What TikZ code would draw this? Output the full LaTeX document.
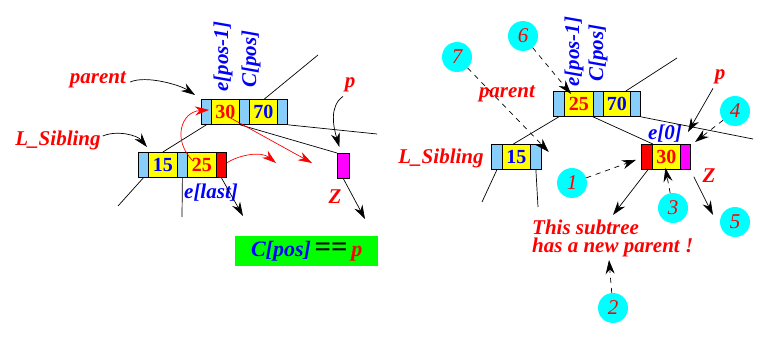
\documentclass[tikz,border=0pt]{standalone}
\usepackage{fontspec}
\setmainfont{Liberation Serif}
\usetikzlibrary{arrows.meta}
\definecolor{cellblue}{RGB}{135,206,250}
\definecolor{cellyellow}{RGB}{255,255,0}
\definecolor{txtred}{RGB}{255,0,0}
\definecolor{txtblue}{RGB}{0,0,255}
\definecolor{cellmag}{RGB}{255,0,255}
\definecolor{boxgreen}{RGB}{0,255,0}
\definecolor{circcyan}{RGB}{0,255,255}
\begin{document}
\begin{tikzpicture}[x=1pt,y=-1pt,
  cell/.style={draw=black,line width=0.8pt,minimum height=25pt,inner sep=0pt,anchor=north west,
    font=\fontsize{20}{20}\selectfont\bfseries},
  bc/.style={cell,fill=cellblue,minimum width=#1},
  yc/.style={cell,fill=cellyellow,minimum width=#1},
  rc/.style={cell,fill=txtred,minimum width=#1},
  mc/.style={cell,fill=cellmag,minimum width=#1},
  lbl/.style={inner sep=0pt,font=\fontsize{21}{21}\selectfont\bfseries\itshape},
  num/.style={circle,fill=circcyan,minimum size=30pt,inner sep=0pt,text=txtred,
    font=\fontsize{21}{21}\selectfont\itshape},
  conn/.style={line width=0.7pt},
  arr/.style={line width=0.7pt,-{Stealth[length=14pt,width=9pt]}},
  rarr/.style={line width=0.7pt,draw=txtred,-{Stealth[length=14pt,width=9pt]}},
  darr/.style={arr,dash pattern=on 5pt off 5pt}
]
\useasboundingbox (0,0) rectangle (780,337);

% ---------- left picture ----------
\node[bc=10pt] (Pb1) at (201,99) {};
\node[yc=28pt,text=txtred] (P30) at (211,99) {30};
\node[bc=10pt] (Pb2) at (239,99) {};
\node[yc=28pt,text=txtblue] (P70) at (249,99) {70};
\node[bc=10pt] (Pb3) at (277,99) {};

\node[bc=10pt] (Lb1) at (138,152) {};
\node[yc=29pt,text=txtblue] (L15) at (148,152) {15};
\node[bc=10pt] (Lb2) at (177,152) {};
\node[yc=29pt,text=txtred] (L25) at (187,152) {25};
\node[rc=10pt] (Lr) at (216,152) {};

\node[mc=12pt] (Z) at (337,153) {};

\node[lbl,text=txtred] (lpar) at (98,80) {parent};
\node[lbl,text=txtred] (lsib) at (58,140) {L\_Sibling};
\node[lbl,text=txtred] (lp) at (350,85) {p};
\node[lbl,text=txtblue,rotate=90,anchor=west] (lepos) at (223,92) {e[pos-1]};
\node[lbl,text=txtblue,rotate=90,anchor=west] (lcpos) at (251,88) {C[pos]};
\node[lbl,text=txtblue] (lelast) at (211,193) {e[last]};
\node[lbl,text=txtred] (lZ) at (335,197) {Z};

\node[fill=boxgreen,minimum width=143pt,minimum height=30pt,inner sep=0pt,anchor=north west,
  font=\fontsize{22}{22}\selectfont\bfseries\itshape] (eq) at (235,236)
  {\textcolor{txtblue}{C[pos]}\,{\fontsize{29}{29}\selectfont\upshape ==}\,\textcolor{txtred}{p}};

\coordinate (lpt1) at (318,55);
\coordinate (lpt2) at (377,134);
\coordinate (lpt3) at (118,206);
\coordinate (lpt4) at (182,217);
\coordinate (lpt5) at (243,216);
\coordinate (lpt6) at (365,219);
\coordinate (lpt7) at (276,163);
\coordinate (lpt8) at (312,163);

\draw[conn] ([xshift=1pt]P70.north) -- (lpt1);
\draw[conn] (Pb3.south east) -- (lpt2);
\draw[conn] ([shift={(1,0)}]Pb2.south west) -- (Z.north west);
\draw[conn] (Pb1.south) -- (L15.north);
\draw[conn] (Lb1.south) -- (lpt3);
\draw[conn] (Lb2.south) -- (lpt4);
\draw[arr] (Lr.south) -- (lpt5);
\draw[arr] (Z.south) -- (lpt6);

\draw[arr] ([shift={(4,2)}]lpar.east) .. controls +(16,-7) and +(-15,-10) .. ([shift={(-6,-4)}]Pb1.north west);
\draw[arr] ([shift={(2,-4)}]lsib.east) .. controls +(14,-6) and +(-10,-12) .. ([shift={(9,-5)}]Lb1.north west);
\draw[arr] ([shift={(-7,4)}]lp.south) .. controls +(-14,10) and +(-6,-20) .. ([shift={(-4,-6)}]Z.north);

\draw[rarr] ([shift={(6,9)}]L25.north west) .. controls +(-21,-21) and +(-28,2) .. ([shift={(-2,-2)}]P30.west);
\draw[rarr] ([shift={(0,-2)}]Lr.east) .. controls +(12,-8) and +(-15,-12) .. (lpt7);
\draw[rarr] ([shift={(5,6)}]P30.center) -- (lpt8);

% ---------- right picture ----------
\node[bc=11pt] (RPb1) at (553,91) {};
\node[yc=29pt,text=txtred] (RP25) at (564,91) {25};
\node[bc=10pt] (RPb2) at (593,91) {};
\node[yc=27pt,text=txtblue] (RP70) at (603,91) {70};
\node[bc=10pt] (RPb3) at (630,91) {};

\node[bc=11pt] (RLb1) at (491,144) {};
\node[yc=28pt,text=txtblue] (RL15) at (502,144) {15};
\node[bc=11pt] (RLb2) at (530,144) {};

\node[rc=11pt] (RNr) at (641,144) {};
\node[yc=28pt,text=txtred] (RN30) at (652,144) {30};
\node[mc=10pt] (RNm) at (680,144) {};

\node[lbl,text=txtred] (rpar) at (507,94) {parent};
\node[lbl,text=txtred] (rsib) at (441,158) {L\_Sibling};
\node[lbl,text=txtred] (rp) at (720,77) {p};
\node[lbl,text=txtblue,rotate=90,anchor=west] (repos) at (574,87) {e[pos-1]};
\node[lbl,text=txtblue,rotate=90,anchor=west] (rcpos) at (598,82) {C[pos]};
\node[lbl,text=txtblue] (re0) at (665,134) {e[0]};
\node[lbl,text=txtred] (rZ) at (709,176) {Z};
\node[lbl,text=txtred,anchor=base west] (sub1) at (532,234) {This subtree};
\node[lbl,text=txtred,anchor=base west] (sub2) at (532,252) {has a new parent !};

\node[num] (c1) at (572,183) {1};
\node[num] (c2) at (613,308) {2};
\node[num] (c3) at (673,208) {3};
\node[num] (c4) at (735,111) {4};
\node[num] (c5) at (735,222) {5};
\node[num] (c6) at (523,36) {6};
\node[num] (c7) at (457,57) {7};

\coordinate (rpt1) at (677,58);
\coordinate (rpt2) at (753,139);
\coordinate (rpt3) at (482,202);
\coordinate (rpt4) at (538,207);
\coordinate (rpt5) at (613,215);
\coordinate (rpt6) at (713,215);
\coordinate (rpt7) at (609,260);
\coordinate (rpt8) at (695,142);
\coordinate (rpt9) at (688,132);

\draw[conn] ([xshift=9pt]RP70.north) -- (rpt1);
\draw[conn] (RPb3.south east) -- (rpt2);
\draw[conn] (RPb2.south west) -- (RNr.north east);
\draw[conn] (RPb1.south) -- ([xshift=-3pt]RL15.north);
\draw[conn] (RLb1.south) -- (rpt3);
\draw[conn] (RLb2.south) -- (rpt4);
\draw[arr] ([xshift=1pt]RNr.south) -- (rpt5);
\draw[arr] ([shift={(3,7)}]RNm.south east) -- (rpt6);
\draw[arr] ([shift={(-7,4)}]rp.south) -- (rpt9);

\draw[darr] (c1) -- ([shift={(-5,3)}]RNr.west);
\draw[darr] (c2) -- (rpt7);
\draw[darr] (c3) -- ([shift={(-1,-2)}]RN30.south);
\draw[darr] (c4) -- (rpt8);
\draw[darr] (c6) -- ([shift={(7,3)}]RP25.north west);
\draw[darr] (c7) -- ([shift={(7,8)}]RLb2.north east);
\end{tikzpicture}
\end{document}
